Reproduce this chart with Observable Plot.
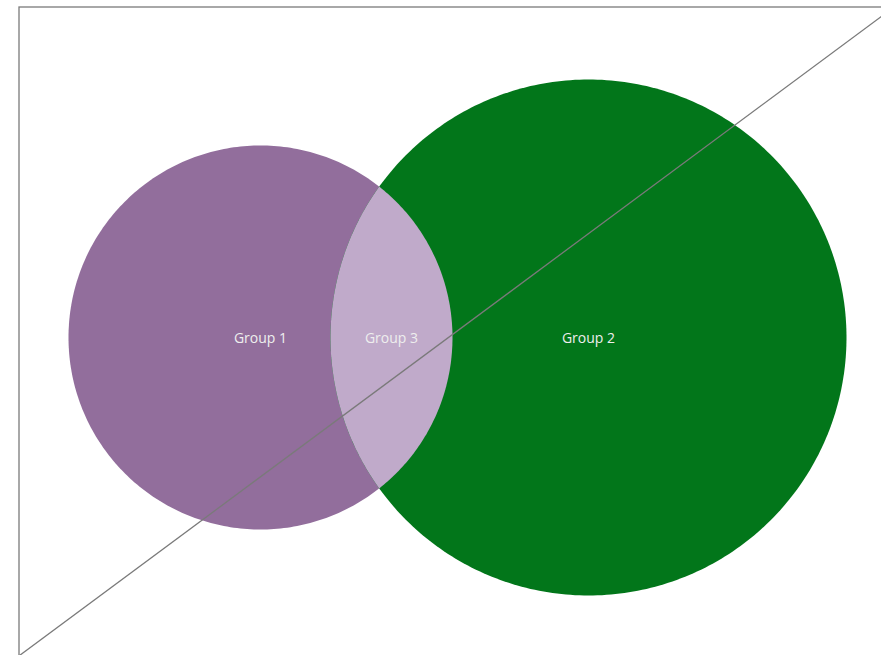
<!DOCTYPE html>
<html>
<head>
<meta charset="utf-8">
<script src="https://cdn.jsdelivr.net/npm/d3@7"></script>
<script src="https://cdn.jsdelivr.net/npm/@observablehq/plot@0.6"></script>
<style>
  html, body { margin: 0; padding: 0; background: #fff; }
  #chart svg { display: block; }
</style>
</head>
<body>
<div id="chart"></div>
<script>
// Data (in chart units)
const groups = ["Group 1", "Group 2"];
const centerX = [241, 569];
const centerY = [318, 318];
const radius = [192, 258];
const overlapLabel = "Group 3";
const groupColors = ["#926e9c", "#02761a"];
const overlapColor = "#c0aaca";
const frameX = [0, 874];
const frameY = [0, 648];

// Build geometry from the data
function circlePoints(cx, cy, r) {
  return d3.range(0, 361).map(a => {
    const t = a * Math.PI / 180;
    return {x: cx + r * Math.cos(t), y: cy + r * Math.sin(t)};
  });
}
const circles = groups.map((g, i) => ({
  name: g, color: groupColors[i],
  pts: circlePoints(centerX[i], centerY[i], radius[i])
}));

const d = centerX[1] - centerX[0];
const r1 = radius[0], r2 = radius[1];
const a = (d * d + r1 * r1 - r2 * r2) / (2 * d);
const alpha1 = Math.acos(a / r1);
const alpha2 = Math.acos((d - a) / r2);
const lens = [];
for (let i = 0; i <= 120; i++) {
  const t = -alpha1 + (2 * alpha1) * i / 120;
  lens.push({x: centerX[0] + r1 * Math.cos(t), y: centerY[0] + r1 * Math.sin(t)});
}
for (let i = 0; i <= 120; i++) {
  const t = Math.PI - alpha2 + (2 * alpha2) * i / 120;
  lens.push({x: centerX[1] + r2 * Math.cos(t), y: centerY[1] + r2 * Math.sin(t)});
}
const labels = [
  {name: groups[0], x: centerX[0], y: centerY[0]},
  {name: groups[1], x: centerX[1], y: centerY[1]},
  {name: overlapLabel, x: ((centerX[1] - r2) + (centerX[0] + r1)) / 2, y: centerY[0]}
];

const chart = Plot.plot({
  width: 881,
  height: 655,
  margin: 0,
  x: {domain: frameX, range: [19, 893], axis: null},
  y: {domain: frameY, range: [655, 7], axis: null},
  style: {background: "#fff", fontFamily: "'Open Sans', sans-serif", overflow: "hidden"},
  marks: [
    Plot.rect([{}], {x1: frameX[0], x2: frameX[1], y1: frameY[0], y2: frameY[1], insetBottom: -4, fill: "none", stroke: "#7a7a7a", strokeWidth: 1.3}),
    ...circles.map(c => Plot.line(c.pts, {x: "x", y: "y", fill: c.color, stroke: "none"})),
    Plot.line(lens, {x: "x", y: "y", fill: overlapColor, stroke: "none"}),
    Plot.link([{}], {x1: frameX[0], y1: frameY[0], x2: frameX[1], y2: frameY[1], stroke: "#7a7a7a", strokeWidth: 1.3}),
    Plot.text(labels, {x: "x", y: "y", text: "name", fill: "#eeeeee", fontSize: 14, dy: 1})
  ]
});
document.getElementById("chart").appendChild(chart);
</script>
</body>
</html>
